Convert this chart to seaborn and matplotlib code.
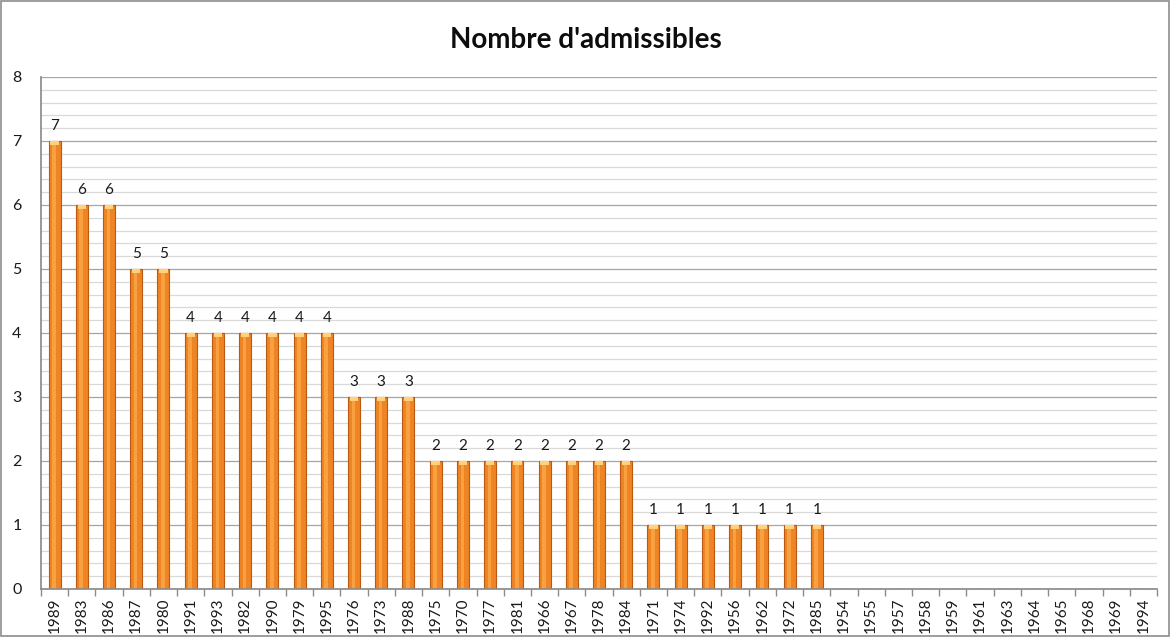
import matplotlib
matplotlib.use("Agg")
import matplotlib.pyplot as plt
import seaborn as sns
import pandas as pd
import numpy as np
from matplotlib.patches import Rectangle
from matplotlib.ticker import MultipleLocator, FixedLocator

years = ["1989", "1983", "1986", "1987", "1980", "1991", "1993", "1982", "1990", "1979",
         "1995", "1976", "1973", "1988", "1975", "1970", "1977", "1981", "1966", "1967",
         "1978", "1984", "1971", "1974", "1992", "1956", "1962", "1972", "1985", "1954",
         "1955", "1957", "1958", "1959", "1961", "1963", "1964", "1965", "1968", "1969", "1994"]
counts = [7, 6, 6, 5, 5, 4, 4, 4, 4, 4,
          4, 3, 3, 3, 2, 2, 2, 2, 2, 2,
          2, 2, 1, 1, 1, 1, 1, 1, 1, 0,
          0, 0, 0, 0, 0, 0, 0, 0, 0, 0, 0]
title = "Nombre d'admissibles"

sns.set_theme(style="white")
plt.rcParams['font.family'] = ['Lato', 'DejaVu Sans']

df = pd.DataFrame({"year": years, "count": counts})

fig = plt.figure(figsize=(11.71, 6.37), dpi=100)
ax = fig.add_axes([41/1171, 1-589/637, (1157-41)/1171, (589-77)/637])

sns.barplot(data=df, x="year", y="count", order=years, ax=ax,
            color="#EE8424", width=0.44, edgecolor="#B85A14", linewidth=0.8,
            saturation=1)

# highlight stripe for a shaded look
for p, v in zip(ax.patches, counts):
    if v > 0:
        x0 = p.get_x(); w = p.get_width()
        ax.add_patch(Rectangle((x0 + w*0.3, 0), w*0.3, v, facecolor="#F9A040",
                               edgecolor="none", zorder=p.get_zorder()+0.1))
        ax.add_patch(Rectangle((x0 + w*0.15, v-0.07), w*0.7, 0.07, facecolor="#FDD27A",
                               edgecolor="none", zorder=p.get_zorder()+0.2))

ax.set_xlim(-0.5, len(years)-0.5)
ax.set_ylim(0, 8)
ax.yaxis.set_major_locator(MultipleLocator(1))
ax.yaxis.set_minor_locator(MultipleLocator(0.2))
ax.grid(True, which="major", axis="y", color="#A6A6A6", linewidth=0.9)
ax.grid(True, which="minor", axis="y", color="#D9D9D9", linewidth=0.9)
ax.set_axisbelow(True)

for s in ["top", "right"]:
    ax.spines[s].set_visible(False)
ax.spines["left"].set_color("#8C8C8C")
ax.spines["bottom"].set_color("#8C8C8C")

ax.set_xlabel("")
ax.set_ylabel("")
ax.tick_params(axis="x", which="major", length=0, labelrotation=90, labelsize=11, pad=6)
ax.xaxis.set_minor_locator(FixedLocator(np.arange(-0.5, len(years), 1)))
ax.tick_params(axis="x", which="minor", length=5, color="#8C8C8C", bottom=True)
ax.tick_params(axis="y", which="both", length=0, labelsize=11.5, pad=14)
for lab in ax.get_xticklabels():
    lab.set_color("#1a1a1a")
for lab in ax.get_yticklabels():
    lab.set_color("#1a1a1a")

for i, v in enumerate(counts):
    if v > 0:
        ax.text(i, v + 0.12, str(v), ha="center", va="bottom", fontsize=11, color="#1a1a1a")

fig.text(0.5, 1-40/637, title, ha="center", va="center", fontsize=20, fontweight="bold",
         color="#0d0d0d")

fig.patches.append(Rectangle((0.001, 0.001), 0.997, 0.997, transform=fig.transFigure,
                             fill=False, edgecolor="#8C8C8C", linewidth=1.2))

fig.savefig("out.png", dpi=100)
